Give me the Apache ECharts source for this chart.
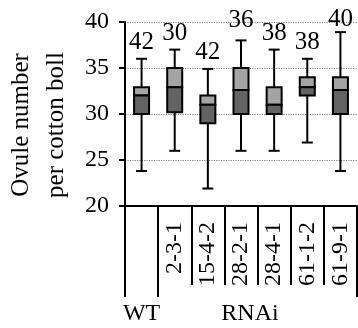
<!DOCTYPE html>
<html>
<head>
<meta charset="utf-8">
<script src="https://cdn.jsdelivr.net/npm/echarts@6/dist/echarts.min.js"></script>
<style>
  html, body { margin: 0; padding: 0; background: #fff; }
  #chart { width: 358px; height: 328px; }
</style>
</head>
<body>
<div id="chart"></div>
<script>
// ─── Data ─────────────────────────────────────────────────────────────────
const categories  = ['WT', '2-3-1', '15-4-2', '28-2-1', '28-4-1', '61-1-2', '61-9-1'];
const groupLabels = ['WT', '', '', 'RNAi', '', '', ''];
const whiskerLow  = [23.8, 26, 21.9, 26, 26, 26.9, 23.8];
const quartile1   = [30, 30.2, 29, 30, 30, 32, 30];
const medians     = [32, 32.9, 31, 32.6, 31, 32.9, 32.6];
const quartile3   = [32.9, 35, 32, 35, 32.9, 34, 34];
const whiskerHigh = [36, 37, 34.9, 38, 37, 36, 38.9];
const counts      = [42, 30, 42, 36, 38, 38, 40];

const FONT = "'Liberation Serif', 'Times New Roman', serif";

// ─── Two-tone box: light upper half, dark lower half ──────────────────────
function renderBox(params, api) {
  const i = api.value(0);
  const lo = api.coord([i, api.value(1)]);
  const q1 = api.coord([i, api.value(2)]);
  const md = api.coord([i, api.value(3)]);
  const q3 = api.coord([i, api.value(4)]);
  const hi = api.coord([i, api.value(5)]);
  const cx = lo[0];
  const bw = 15, cw = 11;
  const line = { stroke: '#000', lineWidth: 2 };
  return {
    type: 'group',
    children: [
      { type: 'line', shape: { x1: cx, y1: hi[1], x2: cx, y2: lo[1] }, style: line },
      { type: 'line', shape: { x1: cx - cw / 2, y1: hi[1], x2: cx + cw / 2, y2: hi[1] }, style: line },
      { type: 'line', shape: { x1: cx - cw / 2, y1: lo[1], x2: cx + cw / 2, y2: lo[1] }, style: line },
      { type: 'rect', shape: { x: cx - bw / 2, y: q3[1], width: bw, height: md[1] - q3[1] },
        style: { fill: '#a4a4a4', stroke: '#000', lineWidth: 2 } },
      { type: 'rect', shape: { x: cx - bw / 2, y: md[1], width: bw, height: q1[1] - md[1] },
        style: { fill: '#636363', stroke: '#000', lineWidth: 2 } }
    ]
  };
}

const boxData = categories.map((c, i) =>
  [i, whiskerLow[i], quartile1[i], medians[i], quartile3[i], whiskerHigh[i]]);

const labelDistance = [4, 4, 4, 7, 4, 4, 0];
const countData = categories.map((c, i) => ({
  value: [i, whiskerHigh[i]],
  label: { distance: labelDistance[i] }
}));

// ─── Chart ────────────────────────────────────────────────────────────────
const chart = echarts.init(document.getElementById('chart'));

chart.setOption({
  animation: false,
  textStyle: { fontFamily: FONT },
  grid: { left: 125, right: 1, top: 22, bottom: 122, containLabel: false, outerBoundsMode: 'none' },
  xAxis: [{
    type: 'category',
    data: categories,
    axisLine: { show: true, lineStyle: { color: '#000', width: 2 } },
    axisTick: { show: true, length: 79, interval: 0, lineStyle: { color: '#000', width: 2 } },
    axisLabel: {
      interval: 0, rotate: 90, margin: 16,
      fontSize: 24, fontFamily: FONT, color: '#000',
      formatter: v => (v === 'WT' ? '' : v)
    },
    splitLine: { show: false }
  }, {
    // second bottom axis: group labels and the long WT separators
    type: 'category',
    data: categories,
    position: 'bottom',
    axisLine: { show: false },
    axisTick: { show: true, length: 91, interval: i => i <= 1, lineStyle: { color: '#000', width: 2 } },
    axisLabel: {
      interval: 0, margin: 96,
      fontSize: 24, fontFamily: FONT, color: '#000',
      formatter: (v, i) => (groupLabels[i] === 'RNAi' ? '{r|RNAi}' : groupLabels[i]),
      rich: { r: { fontSize: 24, fontFamily: FONT, color: '#000', padding: [0, 0, 0, 18] } }
    }
  }],
  yAxis: {
    type: 'value',
    min: 20, max: 40, interval: 5,
    name: 'Ovule number\nper cotton boll',
    nameLocation: 'middle',
    nameGap: 50,
    nameTextStyle: { fontSize: 25, fontFamily: FONT, color: '#000', lineHeight: 35, padding: [0, 22, 0, 0] },
    axisLine: { show: true, lineStyle: { color: '#000', width: 2 } },
    axisTick: { show: true, length: 6, lineStyle: { color: '#000', width: 2 } },
    axisLabel: { margin: 16, fontSize: 24, fontFamily: FONT, color: '#000' },
    splitLine: { show: true, lineStyle: { color: '#808080', type: 'dotted', width: 1.2 } }
  },
  series: [{
    type: 'custom',
    renderItem: renderBox,
    encode: { x: 0, y: [1, 2, 3, 4, 5] },
    data: boxData,
    z: 3
  }, {
    type: 'scatter',
    symbolSize: 0,
    itemStyle: { opacity: 1 },
    data: countData,
    label: {
      show: true, position: 'top',
      fontSize: 25, fontFamily: FONT, color: '#000',
      formatter: p => String(counts[p.dataIndex])
    },
    z: 4
  }]
});
</script>
</body>
</html>
